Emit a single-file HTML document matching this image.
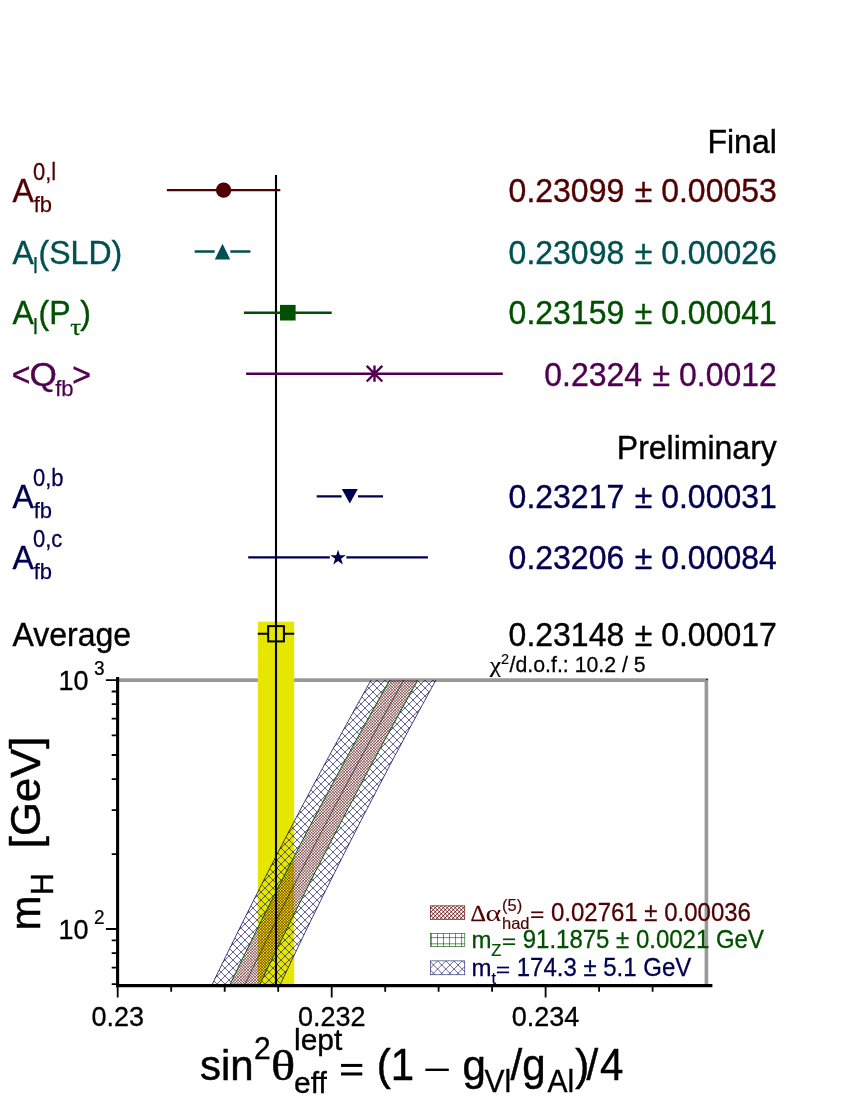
<!DOCTYPE html>
<html><head><meta charset="utf-8"><title>sin2theta</title>
<style>
html,body{margin:0;padding:0;background:#fff;}
svg{display:block;will-change:transform;}
text{font-family:"Liberation Sans", sans-serif;paint-order:stroke fill;}
.sy{font-family:"Liberation Serif", serif;}
</style></head><body>
<svg width="847" height="1096" viewBox="0 0 847 1096">
<defs>
<clipPath id="cp"><rect x="117.7" y="680.1" width="588.6999999999999" height="304.1181537795111"/></clipPath>
</defs>
<rect width="847" height="1096" fill="#fff"/>

<path d="M117.7 680.1H706.4V984.2181537795111" fill="none" stroke="#999999" stroke-width="3.6"/>
<rect x="257.8" y="621.6" width="36.4" height="362.6" fill="#e6e600"/>
<clipPath id="cb"><path d="M373.3 676.1L371.1 680.1L368.8 684.1L366.6 688.1L364.3 692.1L362.1 696.1L359.9 700.1L357.6 704.1L355.4 708.1L353.2 712.1L351.0 716.1L348.8 720.1L346.6 724.1L344.4 728.1L342.2 732.1L340.0 736.1L337.8 740.1L335.6 744.1L333.4 748.1L331.2 752.1L329.1 756.1L326.9 760.1L324.7 764.1L322.6 768.1L320.4 772.1L318.3 776.1L316.1 780.1L314.0 784.1L311.8 788.1L309.7 792.1L307.6 796.1L305.5 800.1L303.3 804.1L301.2 808.1L299.1 812.1L297.0 816.1L294.9 820.1L292.8 824.1L290.7 828.1L288.6 832.1L286.5 836.1L284.4 840.1L282.4 844.1L280.3 848.1L278.2 852.1L276.2 856.1L274.1 860.1L272.0 864.1L270.0 868.1L267.9 872.1L265.9 876.1L263.9 880.1L261.8 884.1L259.8 888.1L257.8 892.1L255.7 896.1L253.7 900.1L251.7 904.1L249.7 908.1L247.7 912.1L245.7 916.1L243.7 920.1L241.7 924.1L239.7 928.1L237.7 932.1L235.8 936.1L233.8 940.1L231.8 944.1L229.9 948.1L227.9 952.1L225.9 956.1L224.0 960.1L222.0 964.1L220.1 968.1L218.1 972.1L216.2 976.1L214.3 980.1L212.4 984.1L210.4 988.1L208.5 992.1L226.0 992.1L227.9 988.1L229.9 984.1L231.8 980.1L233.7 976.1L235.7 972.1L237.6 968.1L239.6 964.1L241.5 960.1L243.5 956.1L245.5 952.1L247.5 948.1L249.4 944.1L251.4 940.1L253.4 936.1L255.4 932.1L257.4 928.1L259.4 924.1L261.4 920.1L263.4 916.1L265.4 912.1L267.4 908.1L269.4 904.1L271.5 900.1L273.5 896.1L275.5 892.1L277.6 888.1L279.6 884.1L281.6 880.1L283.7 876.1L285.7 872.1L287.8 868.1L289.9 864.1L291.9 860.1L294.0 856.1L296.1 852.1L298.2 848.1L300.2 844.1L302.3 840.1L304.4 836.1L306.5 832.1L308.6 828.1L310.7 824.1L312.8 820.1L315.0 816.1L317.1 812.1L319.2 808.1L321.3 804.1L323.5 800.1L325.6 796.1L327.7 792.1L329.9 788.1L332.0 784.1L334.2 780.1L336.3 776.1L338.5 772.1L340.7 768.1L342.8 764.1L345.0 760.1L347.2 756.1L349.4 752.1L351.6 748.1L353.7 744.1L355.9 740.1L358.1 736.1L360.3 732.1L362.5 728.1L364.8 724.1L367.0 720.1L369.2 716.1L371.4 712.1L373.7 708.1L375.9 704.1L378.1 700.1L380.4 696.1L382.6 692.1L384.9 688.1L387.1 684.1L389.4 680.1L391.6 676.1Z"/><path d="M420.4 676.1L418.1 680.1L415.9 684.1L413.7 688.1L411.4 692.1L409.2 696.1L407.0 700.1L404.8 704.1L402.6 708.1L400.4 712.1L398.2 716.1L396.0 720.1L393.8 724.1L391.6 728.1L389.4 732.1L387.2 736.1L385.0 740.1L382.8 744.1L380.7 748.1L378.5 752.1L376.4 756.1L374.2 760.1L372.0 764.1L369.9 768.1L367.7 772.1L365.6 776.1L363.5 780.1L361.3 784.1L359.2 788.1L357.1 792.1L355.0 796.1L352.9 800.1L350.8 804.1L348.6 808.1L346.5 812.1L344.4 816.1L342.4 820.1L340.3 824.1L338.2 828.1L336.1 832.1L334.0 836.1L332.0 840.1L329.9 844.1L327.8 848.1L325.8 852.1L323.7 856.1L321.7 860.1L319.6 864.1L317.6 868.1L315.5 872.1L313.5 876.1L311.5 880.1L309.5 884.1L307.4 888.1L305.4 892.1L303.4 896.1L301.4 900.1L299.4 904.1L297.4 908.1L295.4 912.1L293.4 916.1L291.4 920.1L289.5 924.1L287.5 928.1L285.5 932.1L283.5 936.1L281.6 940.1L279.6 944.1L277.7 948.1L275.7 952.1L273.8 956.1L271.8 960.1L269.9 964.1L267.9 968.1L266.0 972.1L264.1 976.1L262.2 980.1L260.3 984.1L258.3 988.1L256.4 992.1L276.7 992.1L278.6 988.1L280.5 984.1L282.3 980.1L284.2 976.1L286.1 972.1L288.0 968.1L289.9 964.1L291.8 960.1L293.7 956.1L295.7 952.1L297.6 948.1L299.5 944.1L301.4 940.1L303.4 936.1L305.3 932.1L307.2 928.1L309.2 924.1L311.1 920.1L313.1 916.1L315.0 912.1L317.0 908.1L319.0 904.1L320.9 900.1L322.9 896.1L324.9 892.1L326.9 888.1L328.9 884.1L330.9 880.1L332.9 876.1L334.9 872.1L336.9 868.1L338.9 864.1L340.9 860.1L342.9 856.1L344.9 852.1L347.0 848.1L349.0 844.1L351.0 840.1L353.1 836.1L355.1 832.1L357.2 828.1L359.2 824.1L361.3 820.1L363.3 816.1L365.4 812.1L367.5 808.1L369.5 804.1L371.6 800.1L373.7 796.1L375.8 792.1L377.9 788.1L380.0 784.1L382.1 780.1L384.2 776.1L386.3 772.1L388.4 768.1L390.5 764.1L392.6 760.1L394.7 756.1L396.9 752.1L399.0 748.1L401.2 744.1L403.3 740.1L405.4 736.1L407.6 732.1L409.7 728.1L411.9 724.1L414.1 720.1L416.2 716.1L418.4 712.1L420.6 708.1L422.8 704.1L425.0 700.1L427.1 696.1L429.3 692.1L431.5 688.1L433.7 684.1L435.9 680.1L438.2 676.1Z"/></clipPath>
<clipPath id="cr"><path d="M392.2 676.1L390.0 680.1L387.7 684.1L385.5 688.1L383.2 692.1L381.0 696.1L378.7 700.1L376.5 704.1L374.3 708.1L372.0 712.1L369.8 716.1L367.6 720.1L365.4 724.1L363.1 728.1L360.9 732.1L358.7 736.1L356.5 740.1L354.3 744.1L352.2 748.1L350.0 752.1L347.8 756.1L345.6 760.1L343.4 764.1L341.3 768.1L339.1 772.1L336.9 776.1L334.8 780.1L332.6 784.1L330.5 788.1L328.3 792.1L326.2 796.1L324.1 800.1L321.9 804.1L319.8 808.1L317.7 812.1L315.6 816.1L313.4 820.1L311.3 824.1L309.2 828.1L307.1 832.1L305.0 836.1L302.9 840.1L300.8 844.1L298.8 848.1L296.7 852.1L294.6 856.1L292.5 860.1L290.5 864.1L288.4 868.1L286.3 872.1L284.3 876.1L282.2 880.1L280.2 884.1L278.2 888.1L276.1 892.1L274.1 896.1L272.1 900.1L270.0 904.1L268.0 908.1L266.0 912.1L264.0 916.1L262.0 920.1L260.0 924.1L258.0 928.1L256.0 932.1L254.0 936.1L252.0 940.1L250.0 944.1L248.1 948.1L246.1 952.1L244.1 956.1L242.1 960.1L240.2 964.1L238.2 968.1L236.3 972.1L234.3 976.1L232.4 980.1L230.5 984.1L228.5 988.1L226.6 992.1L255.8 992.1L257.7 988.1L259.7 984.1L261.6 980.1L263.5 976.1L265.4 972.1L267.3 968.1L269.3 964.1L271.2 960.1L273.2 956.1L275.1 952.1L277.1 948.1L279.0 944.1L281.0 940.1L282.9 936.1L284.9 932.1L286.9 928.1L288.9 924.1L290.8 920.1L292.8 916.1L294.8 912.1L296.8 908.1L298.8 904.1L300.8 900.1L302.8 896.1L304.8 892.1L306.8 888.1L308.9 884.1L310.9 880.1L312.9 876.1L314.9 872.1L317.0 868.1L319.0 864.1L321.1 860.1L323.1 856.1L325.2 852.1L327.2 848.1L329.3 844.1L331.4 840.1L333.4 836.1L335.5 832.1L337.6 828.1L339.7 824.1L341.8 820.1L343.8 816.1L345.9 812.1L348.0 808.1L350.2 804.1L352.3 800.1L354.4 796.1L356.5 792.1L358.6 788.1L360.7 784.1L362.9 780.1L365.0 776.1L367.1 772.1L369.3 768.1L371.4 764.1L373.6 760.1L375.8 756.1L377.9 752.1L380.1 748.1L382.2 744.1L384.4 740.1L386.6 736.1L388.8 732.1L391.0 728.1L393.2 724.1L395.4 720.1L397.6 716.1L399.8 712.1L402.0 708.1L404.2 704.1L406.4 700.1L408.6 696.1L410.8 692.1L413.1 688.1L415.3 684.1L417.5 680.1L419.8 676.1Z"/></clipPath>
<g clip-path="url(#cp)">
<g clip-path="url(#cb)"><path d="M-111.00 680.1l306.1 306.1M-103.00 680.1l306.1 306.1M-95.00 680.1l306.1 306.1M-87.00 680.1l306.1 306.1M-79.00 680.1l306.1 306.1M-71.00 680.1l306.1 306.1M-63.00 680.1l306.1 306.1M-55.00 680.1l306.1 306.1M-47.00 680.1l306.1 306.1M-39.00 680.1l306.1 306.1M-31.00 680.1l306.1 306.1M-23.00 680.1l306.1 306.1M-15.00 680.1l306.1 306.1M-7.00 680.1l306.1 306.1M1.00 680.1l306.1 306.1M9.00 680.1l306.1 306.1M17.00 680.1l306.1 306.1M25.00 680.1l306.1 306.1M33.00 680.1l306.1 306.1M41.00 680.1l306.1 306.1M49.00 680.1l306.1 306.1M57.00 680.1l306.1 306.1M65.00 680.1l306.1 306.1M73.00 680.1l306.1 306.1M81.00 680.1l306.1 306.1M89.00 680.1l306.1 306.1M97.00 680.1l306.1 306.1M105.00 680.1l306.1 306.1M113.00 680.1l306.1 306.1M121.00 680.1l306.1 306.1M129.00 680.1l306.1 306.1M137.00 680.1l306.1 306.1M145.00 680.1l306.1 306.1M153.00 680.1l306.1 306.1M161.00 680.1l306.1 306.1M169.00 680.1l306.1 306.1M177.00 680.1l306.1 306.1M185.00 680.1l306.1 306.1M193.00 680.1l306.1 306.1M201.00 680.1l306.1 306.1M209.00 680.1l306.1 306.1M217.00 680.1l306.1 306.1M225.00 680.1l306.1 306.1M233.00 680.1l306.1 306.1M241.00 680.1l306.1 306.1M249.00 680.1l306.1 306.1M257.00 680.1l306.1 306.1M265.00 680.1l306.1 306.1M273.00 680.1l306.1 306.1M281.00 680.1l306.1 306.1M289.00 680.1l306.1 306.1M297.00 680.1l306.1 306.1M305.00 680.1l306.1 306.1M313.00 680.1l306.1 306.1M321.00 680.1l306.1 306.1M329.00 680.1l306.1 306.1M337.00 680.1l306.1 306.1M345.00 680.1l306.1 306.1M353.00 680.1l306.1 306.1M361.00 680.1l306.1 306.1M369.00 680.1l306.1 306.1M377.00 680.1l306.1 306.1M385.00 680.1l306.1 306.1M393.00 680.1l306.1 306.1M401.00 680.1l306.1 306.1M409.00 680.1l306.1 306.1M417.00 680.1l306.1 306.1M425.00 680.1l306.1 306.1M433.00 680.1l306.1 306.1M441.00 680.1l306.1 306.1M201.00 680.1l-306.1 306.1M209.00 680.1l-306.1 306.1M217.00 680.1l-306.1 306.1M225.00 680.1l-306.1 306.1M233.00 680.1l-306.1 306.1M241.00 680.1l-306.1 306.1M249.00 680.1l-306.1 306.1M257.00 680.1l-306.1 306.1M265.00 680.1l-306.1 306.1M273.00 680.1l-306.1 306.1M281.00 680.1l-306.1 306.1M289.00 680.1l-306.1 306.1M297.00 680.1l-306.1 306.1M305.00 680.1l-306.1 306.1M313.00 680.1l-306.1 306.1M321.00 680.1l-306.1 306.1M329.00 680.1l-306.1 306.1M337.00 680.1l-306.1 306.1M345.00 680.1l-306.1 306.1M353.00 680.1l-306.1 306.1M361.00 680.1l-306.1 306.1M369.00 680.1l-306.1 306.1M377.00 680.1l-306.1 306.1M385.00 680.1l-306.1 306.1M393.00 680.1l-306.1 306.1M401.00 680.1l-306.1 306.1M409.00 680.1l-306.1 306.1M417.00 680.1l-306.1 306.1M425.00 680.1l-306.1 306.1M433.00 680.1l-306.1 306.1M441.00 680.1l-306.1 306.1M449.00 680.1l-306.1 306.1M457.00 680.1l-306.1 306.1M465.00 680.1l-306.1 306.1M473.00 680.1l-306.1 306.1M481.00 680.1l-306.1 306.1M489.00 680.1l-306.1 306.1M497.00 680.1l-306.1 306.1M505.00 680.1l-306.1 306.1M513.00 680.1l-306.1 306.1M521.00 680.1l-306.1 306.1M529.00 680.1l-306.1 306.1M537.00 680.1l-306.1 306.1M545.00 680.1l-306.1 306.1M553.00 680.1l-306.1 306.1M561.00 680.1l-306.1 306.1M569.00 680.1l-306.1 306.1M577.00 680.1l-306.1 306.1M585.00 680.1l-306.1 306.1M593.00 680.1l-306.1 306.1M601.00 680.1l-306.1 306.1M609.00 680.1l-306.1 306.1M617.00 680.1l-306.1 306.1M625.00 680.1l-306.1 306.1M633.00 680.1l-306.1 306.1M641.00 680.1l-306.1 306.1M649.00 680.1l-306.1 306.1M657.00 680.1l-306.1 306.1M665.00 680.1l-306.1 306.1M673.00 680.1l-306.1 306.1M681.00 680.1l-306.1 306.1M689.00 680.1l-306.1 306.1M697.00 680.1l-306.1 306.1M705.00 680.1l-306.1 306.1M713.00 680.1l-306.1 306.1M721.00 680.1l-306.1 306.1M729.00 680.1l-306.1 306.1M737.00 680.1l-306.1 306.1M745.00 680.1l-306.1 306.1M753.00 680.1l-306.1 306.1" stroke="#000050" stroke-width="0.65" fill="none"/></g>
<g clip-path="url(#cr)"><path d="M-81.52 680.1l306.1 306.1M-78.70 680.1l306.1 306.1M-75.87 680.1l306.1 306.1M-73.04 680.1l306.1 306.1M-70.21 680.1l306.1 306.1M-67.38 680.1l306.1 306.1M-64.55 680.1l306.1 306.1M-61.72 680.1l306.1 306.1M-58.90 680.1l306.1 306.1M-56.07 680.1l306.1 306.1M-53.24 680.1l306.1 306.1M-50.41 680.1l306.1 306.1M-47.58 680.1l306.1 306.1M-44.75 680.1l306.1 306.1M-41.93 680.1l306.1 306.1M-39.10 680.1l306.1 306.1M-36.27 680.1l306.1 306.1M-33.44 680.1l306.1 306.1M-30.61 680.1l306.1 306.1M-27.78 680.1l306.1 306.1M-24.96 680.1l306.1 306.1M-22.13 680.1l306.1 306.1M-19.30 680.1l306.1 306.1M-16.47 680.1l306.1 306.1M-13.64 680.1l306.1 306.1M-10.81 680.1l306.1 306.1M-7.99 680.1l306.1 306.1M-5.16 680.1l306.1 306.1M-2.33 680.1l306.1 306.1M0.50 680.1l306.1 306.1M3.33 680.1l306.1 306.1M6.16 680.1l306.1 306.1M8.99 680.1l306.1 306.1M11.81 680.1l306.1 306.1M14.64 680.1l306.1 306.1M17.47 680.1l306.1 306.1M20.30 680.1l306.1 306.1M23.13 680.1l306.1 306.1M25.96 680.1l306.1 306.1M28.78 680.1l306.1 306.1M31.61 680.1l306.1 306.1M34.44 680.1l306.1 306.1M37.27 680.1l306.1 306.1M40.10 680.1l306.1 306.1M42.93 680.1l306.1 306.1M45.75 680.1l306.1 306.1M48.58 680.1l306.1 306.1M51.41 680.1l306.1 306.1M54.24 680.1l306.1 306.1M57.07 680.1l306.1 306.1M59.90 680.1l306.1 306.1M62.72 680.1l306.1 306.1M65.55 680.1l306.1 306.1M68.38 680.1l306.1 306.1M71.21 680.1l306.1 306.1M74.04 680.1l306.1 306.1M76.87 680.1l306.1 306.1M79.70 680.1l306.1 306.1M82.52 680.1l306.1 306.1M85.35 680.1l306.1 306.1M88.18 680.1l306.1 306.1M91.01 680.1l306.1 306.1M93.84 680.1l306.1 306.1M96.67 680.1l306.1 306.1M99.49 680.1l306.1 306.1M102.32 680.1l306.1 306.1M105.15 680.1l306.1 306.1M107.98 680.1l306.1 306.1M110.81 680.1l306.1 306.1M113.64 680.1l306.1 306.1M116.46 680.1l306.1 306.1M119.29 680.1l306.1 306.1M122.12 680.1l306.1 306.1M124.95 680.1l306.1 306.1M127.78 680.1l306.1 306.1M130.61 680.1l306.1 306.1M133.43 680.1l306.1 306.1M136.26 680.1l306.1 306.1M139.09 680.1l306.1 306.1M141.92 680.1l306.1 306.1M144.75 680.1l306.1 306.1M147.58 680.1l306.1 306.1M150.41 680.1l306.1 306.1M153.23 680.1l306.1 306.1M156.06 680.1l306.1 306.1M158.89 680.1l306.1 306.1M161.72 680.1l306.1 306.1M164.55 680.1l306.1 306.1M167.38 680.1l306.1 306.1M170.20 680.1l306.1 306.1M173.03 680.1l306.1 306.1M175.86 680.1l306.1 306.1M178.69 680.1l306.1 306.1M181.52 680.1l306.1 306.1M184.35 680.1l306.1 306.1M187.17 680.1l306.1 306.1M190.00 680.1l306.1 306.1M192.83 680.1l306.1 306.1M195.66 680.1l306.1 306.1M198.49 680.1l306.1 306.1M201.32 680.1l306.1 306.1M204.14 680.1l306.1 306.1M206.97 680.1l306.1 306.1M209.80 680.1l306.1 306.1M212.63 680.1l306.1 306.1M215.46 680.1l306.1 306.1M218.29 680.1l306.1 306.1M221.12 680.1l306.1 306.1M223.94 680.1l306.1 306.1M226.77 680.1l306.1 306.1M229.60 680.1l306.1 306.1M232.43 680.1l306.1 306.1M235.26 680.1l306.1 306.1M238.09 680.1l306.1 306.1M240.91 680.1l306.1 306.1M243.74 680.1l306.1 306.1M246.57 680.1l306.1 306.1M249.40 680.1l306.1 306.1M252.23 680.1l306.1 306.1M255.06 680.1l306.1 306.1M257.88 680.1l306.1 306.1M260.71 680.1l306.1 306.1M263.54 680.1l306.1 306.1M266.37 680.1l306.1 306.1M269.20 680.1l306.1 306.1M272.03 680.1l306.1 306.1M274.85 680.1l306.1 306.1M277.68 680.1l306.1 306.1M280.51 680.1l306.1 306.1M283.34 680.1l306.1 306.1M286.17 680.1l306.1 306.1M289.00 680.1l306.1 306.1M291.83 680.1l306.1 306.1M294.65 680.1l306.1 306.1M297.48 680.1l306.1 306.1M300.31 680.1l306.1 306.1M303.14 680.1l306.1 306.1M305.97 680.1l306.1 306.1M308.80 680.1l306.1 306.1M311.62 680.1l306.1 306.1M314.45 680.1l306.1 306.1M317.28 680.1l306.1 306.1M320.11 680.1l306.1 306.1M322.94 680.1l306.1 306.1M325.77 680.1l306.1 306.1M328.59 680.1l306.1 306.1M331.42 680.1l306.1 306.1M334.25 680.1l306.1 306.1M337.08 680.1l306.1 306.1M339.91 680.1l306.1 306.1M342.74 680.1l306.1 306.1M345.56 680.1l306.1 306.1M348.39 680.1l306.1 306.1M351.22 680.1l306.1 306.1M354.05 680.1l306.1 306.1M356.88 680.1l306.1 306.1M359.71 680.1l306.1 306.1M362.54 680.1l306.1 306.1M365.36 680.1l306.1 306.1M368.19 680.1l306.1 306.1M371.02 680.1l306.1 306.1M373.85 680.1l306.1 306.1M376.68 680.1l306.1 306.1M379.51 680.1l306.1 306.1M382.33 680.1l306.1 306.1M385.16 680.1l306.1 306.1M387.99 680.1l306.1 306.1M390.82 680.1l306.1 306.1M393.65 680.1l306.1 306.1M396.48 680.1l306.1 306.1M399.30 680.1l306.1 306.1M402.13 680.1l306.1 306.1M404.96 680.1l306.1 306.1M407.79 680.1l306.1 306.1M410.62 680.1l306.1 306.1M413.45 680.1l306.1 306.1M416.27 680.1l306.1 306.1M419.10 680.1l306.1 306.1M421.93 680.1l306.1 306.1M223.94 680.1l-306.1 306.1M226.77 680.1l-306.1 306.1M229.60 680.1l-306.1 306.1M232.43 680.1l-306.1 306.1M235.26 680.1l-306.1 306.1M238.09 680.1l-306.1 306.1M240.91 680.1l-306.1 306.1M243.74 680.1l-306.1 306.1M246.57 680.1l-306.1 306.1M249.40 680.1l-306.1 306.1M252.23 680.1l-306.1 306.1M255.06 680.1l-306.1 306.1M257.88 680.1l-306.1 306.1M260.71 680.1l-306.1 306.1M263.54 680.1l-306.1 306.1M266.37 680.1l-306.1 306.1M269.20 680.1l-306.1 306.1M272.03 680.1l-306.1 306.1M274.85 680.1l-306.1 306.1M277.68 680.1l-306.1 306.1M280.51 680.1l-306.1 306.1M283.34 680.1l-306.1 306.1M286.17 680.1l-306.1 306.1M289.00 680.1l-306.1 306.1M291.83 680.1l-306.1 306.1M294.65 680.1l-306.1 306.1M297.48 680.1l-306.1 306.1M300.31 680.1l-306.1 306.1M303.14 680.1l-306.1 306.1M305.97 680.1l-306.1 306.1M308.80 680.1l-306.1 306.1M311.62 680.1l-306.1 306.1M314.45 680.1l-306.1 306.1M317.28 680.1l-306.1 306.1M320.11 680.1l-306.1 306.1M322.94 680.1l-306.1 306.1M325.77 680.1l-306.1 306.1M328.59 680.1l-306.1 306.1M331.42 680.1l-306.1 306.1M334.25 680.1l-306.1 306.1M337.08 680.1l-306.1 306.1M339.91 680.1l-306.1 306.1M342.74 680.1l-306.1 306.1M345.56 680.1l-306.1 306.1M348.39 680.1l-306.1 306.1M351.22 680.1l-306.1 306.1M354.05 680.1l-306.1 306.1M356.88 680.1l-306.1 306.1M359.71 680.1l-306.1 306.1M362.54 680.1l-306.1 306.1M365.36 680.1l-306.1 306.1M368.19 680.1l-306.1 306.1M371.02 680.1l-306.1 306.1M373.85 680.1l-306.1 306.1M376.68 680.1l-306.1 306.1M379.51 680.1l-306.1 306.1M382.33 680.1l-306.1 306.1M385.16 680.1l-306.1 306.1M387.99 680.1l-306.1 306.1M390.82 680.1l-306.1 306.1M393.65 680.1l-306.1 306.1M396.48 680.1l-306.1 306.1M399.30 680.1l-306.1 306.1M402.13 680.1l-306.1 306.1M404.96 680.1l-306.1 306.1M407.79 680.1l-306.1 306.1M410.62 680.1l-306.1 306.1M413.45 680.1l-306.1 306.1M416.27 680.1l-306.1 306.1M419.10 680.1l-306.1 306.1M421.93 680.1l-306.1 306.1M424.76 680.1l-306.1 306.1M427.59 680.1l-306.1 306.1M430.42 680.1l-306.1 306.1M433.25 680.1l-306.1 306.1M436.07 680.1l-306.1 306.1M438.90 680.1l-306.1 306.1M441.73 680.1l-306.1 306.1M444.56 680.1l-306.1 306.1M447.39 680.1l-306.1 306.1M450.22 680.1l-306.1 306.1M453.04 680.1l-306.1 306.1M455.87 680.1l-306.1 306.1M458.70 680.1l-306.1 306.1M461.53 680.1l-306.1 306.1M464.36 680.1l-306.1 306.1M467.19 680.1l-306.1 306.1M470.01 680.1l-306.1 306.1M472.84 680.1l-306.1 306.1M475.67 680.1l-306.1 306.1M478.50 680.1l-306.1 306.1M481.33 680.1l-306.1 306.1M484.16 680.1l-306.1 306.1M486.98 680.1l-306.1 306.1M489.81 680.1l-306.1 306.1M492.64 680.1l-306.1 306.1M495.47 680.1l-306.1 306.1M498.30 680.1l-306.1 306.1M501.13 680.1l-306.1 306.1M503.96 680.1l-306.1 306.1M506.78 680.1l-306.1 306.1M509.61 680.1l-306.1 306.1M512.44 680.1l-306.1 306.1M515.27 680.1l-306.1 306.1M518.10 680.1l-306.1 306.1M520.93 680.1l-306.1 306.1M523.75 680.1l-306.1 306.1M526.58 680.1l-306.1 306.1M529.41 680.1l-306.1 306.1M532.24 680.1l-306.1 306.1M535.07 680.1l-306.1 306.1M537.90 680.1l-306.1 306.1M540.72 680.1l-306.1 306.1M543.55 680.1l-306.1 306.1M546.38 680.1l-306.1 306.1M549.21 680.1l-306.1 306.1M552.04 680.1l-306.1 306.1M554.87 680.1l-306.1 306.1M557.69 680.1l-306.1 306.1M560.52 680.1l-306.1 306.1M563.35 680.1l-306.1 306.1M566.18 680.1l-306.1 306.1M569.01 680.1l-306.1 306.1M571.84 680.1l-306.1 306.1M574.67 680.1l-306.1 306.1M577.49 680.1l-306.1 306.1M580.32 680.1l-306.1 306.1M583.15 680.1l-306.1 306.1M585.98 680.1l-306.1 306.1M588.81 680.1l-306.1 306.1M591.64 680.1l-306.1 306.1M594.46 680.1l-306.1 306.1M597.29 680.1l-306.1 306.1M600.12 680.1l-306.1 306.1M602.95 680.1l-306.1 306.1M605.78 680.1l-306.1 306.1M608.61 680.1l-306.1 306.1M611.43 680.1l-306.1 306.1M614.26 680.1l-306.1 306.1M617.09 680.1l-306.1 306.1M619.92 680.1l-306.1 306.1M622.75 680.1l-306.1 306.1M625.58 680.1l-306.1 306.1M628.40 680.1l-306.1 306.1M631.23 680.1l-306.1 306.1M634.06 680.1l-306.1 306.1M636.89 680.1l-306.1 306.1M639.72 680.1l-306.1 306.1M642.55 680.1l-306.1 306.1M645.38 680.1l-306.1 306.1M648.20 680.1l-306.1 306.1M651.03 680.1l-306.1 306.1M653.86 680.1l-306.1 306.1M656.69 680.1l-306.1 306.1M659.52 680.1l-306.1 306.1M662.35 680.1l-306.1 306.1M665.17 680.1l-306.1 306.1M668.00 680.1l-306.1 306.1M670.83 680.1l-306.1 306.1M673.66 680.1l-306.1 306.1M676.49 680.1l-306.1 306.1M679.32 680.1l-306.1 306.1M682.14 680.1l-306.1 306.1M684.97 680.1l-306.1 306.1M687.80 680.1l-306.1 306.1M690.63 680.1l-306.1 306.1M693.46 680.1l-306.1 306.1M696.29 680.1l-306.1 306.1M699.11 680.1l-306.1 306.1M701.94 680.1l-306.1 306.1M704.77 680.1l-306.1 306.1M707.60 680.1l-306.1 306.1M710.43 680.1l-306.1 306.1M713.26 680.1l-306.1 306.1M716.09 680.1l-306.1 306.1M718.91 680.1l-306.1 306.1M721.74 680.1l-306.1 306.1M724.57 680.1l-306.1 306.1M727.40 680.1l-306.1 306.1" stroke="#500000" stroke-width="0.58" fill="none"/></g>
<path d="M373.3 676.1L371.1 680.1L368.8 684.1L366.6 688.1L364.3 692.1L362.1 696.1L359.9 700.1L357.6 704.1L355.4 708.1L353.2 712.1L351.0 716.1L348.8 720.1L346.6 724.1L344.4 728.1L342.2 732.1L340.0 736.1L337.8 740.1L335.6 744.1L333.4 748.1L331.2 752.1L329.1 756.1L326.9 760.1L324.7 764.1L322.6 768.1L320.4 772.1L318.3 776.1L316.1 780.1L314.0 784.1L311.8 788.1L309.7 792.1L307.6 796.1L305.5 800.1L303.3 804.1L301.2 808.1L299.1 812.1L297.0 816.1L294.9 820.1L292.8 824.1L290.7 828.1L288.6 832.1L286.5 836.1L284.4 840.1L282.4 844.1L280.3 848.1L278.2 852.1L276.2 856.1L274.1 860.1L272.0 864.1L270.0 868.1L267.9 872.1L265.9 876.1L263.9 880.1L261.8 884.1L259.8 888.1L257.8 892.1L255.7 896.1L253.7 900.1L251.7 904.1L249.7 908.1L247.7 912.1L245.7 916.1L243.7 920.1L241.7 924.1L239.7 928.1L237.7 932.1L235.8 936.1L233.8 940.1L231.8 944.1L229.9 948.1L227.9 952.1L225.9 956.1L224.0 960.1L222.0 964.1L220.1 968.1L218.1 972.1L216.2 976.1L214.3 980.1L212.4 984.1L210.4 988.1L208.5 992.1M438.2 676.1L435.9 680.1L433.7 684.1L431.5 688.1L429.3 692.1L427.1 696.1L425.0 700.1L422.8 704.1L420.6 708.1L418.4 712.1L416.2 716.1L414.1 720.1L411.9 724.1L409.7 728.1L407.6 732.1L405.4 736.1L403.3 740.1L401.2 744.1L399.0 748.1L396.9 752.1L394.7 756.1L392.6 760.1L390.5 764.1L388.4 768.1L386.3 772.1L384.2 776.1L382.1 780.1L380.0 784.1L377.9 788.1L375.8 792.1L373.7 796.1L371.6 800.1L369.5 804.1L367.5 808.1L365.4 812.1L363.3 816.1L361.3 820.1L359.2 824.1L357.2 828.1L355.1 832.1L353.1 836.1L351.0 840.1L349.0 844.1L347.0 848.1L344.9 852.1L342.9 856.1L340.9 860.1L338.9 864.1L336.9 868.1L334.9 872.1L332.9 876.1L330.9 880.1L328.9 884.1L326.9 888.1L324.9 892.1L322.9 896.1L320.9 900.1L319.0 904.1L317.0 908.1L315.0 912.1L313.1 916.1L311.1 920.1L309.2 924.1L307.2 928.1L305.3 932.1L303.4 936.1L301.4 940.1L299.5 944.1L297.6 948.1L295.7 952.1L293.7 956.1L291.8 960.1L289.9 964.1L288.0 968.1L286.1 972.1L284.2 976.1L282.3 980.1L280.5 984.1L278.6 988.1L276.7 992.1" fill="none" stroke="#000050" stroke-width="0.75"/>
<path d="M391.9 676.1L389.7 680.1L387.4 684.1L385.2 688.1L382.9 692.1L380.7 696.1L378.4 700.1L376.2 704.1L374.0 708.1L371.7 712.1L369.5 716.1L367.3 720.1L365.1 724.1L362.8 728.1L360.6 732.1L358.4 736.1L356.2 740.1L354.0 744.1L351.9 748.1L349.7 752.1L347.5 756.1L345.3 760.1L343.1 764.1L341.0 768.1L338.8 772.1L336.6 776.1L334.5 780.1L332.3 784.1L330.2 788.1L328.0 792.1L325.9 796.1L323.8 800.1L321.6 804.1L319.5 808.1L317.4 812.1L315.3 816.1L313.1 820.1L311.0 824.1L308.9 828.1L306.8 832.1L304.7 836.1L302.6 840.1L300.5 844.1L298.5 848.1L296.4 852.1L294.3 856.1L292.2 860.1L290.2 864.1L288.1 868.1L286.0 872.1L284.0 876.1L281.9 880.1L279.9 884.1L277.9 888.1L275.8 892.1L273.8 896.1L271.8 900.1L269.7 904.1L267.7 908.1L265.7 912.1L263.7 916.1L261.7 920.1L259.7 924.1L257.7 928.1L255.7 932.1L253.7 936.1L251.7 940.1L249.7 944.1L247.8 948.1L245.8 952.1L243.8 956.1L241.8 960.1L239.9 964.1L237.9 968.1L236.0 972.1L234.0 976.1L232.1 980.1L230.2 984.1L228.2 988.1L226.3 992.1M420.1 676.1L417.8 680.1L415.6 684.1L413.4 688.1L411.1 692.1L408.9 696.1L406.7 700.1L404.5 704.1L402.3 708.1L400.1 712.1L397.9 716.1L395.7 720.1L393.5 724.1L391.3 728.1L389.1 732.1L386.9 736.1L384.7 740.1L382.5 744.1L380.4 748.1L378.2 752.1L376.1 756.1L373.9 760.1L371.7 764.1L369.6 768.1L367.4 772.1L365.3 776.1L363.2 780.1L361.0 784.1L358.9 788.1L356.8 792.1L354.7 796.1L352.6 800.1L350.5 804.1L348.3 808.1L346.2 812.1L344.1 816.1L342.1 820.1L340.0 824.1L337.9 828.1L335.8 832.1L333.7 836.1L331.7 840.1L329.6 844.1L327.5 848.1L325.5 852.1L323.4 856.1L321.4 860.1L319.3 864.1L317.3 868.1L315.2 872.1L313.2 876.1L311.2 880.1L309.2 884.1L307.1 888.1L305.1 892.1L303.1 896.1L301.1 900.1L299.1 904.1L297.1 908.1L295.1 912.1L293.1 916.1L291.1 920.1L289.2 924.1L287.2 928.1L285.2 932.1L283.2 936.1L281.3 940.1L279.3 944.1L277.4 948.1L275.4 952.1L273.5 956.1L271.5 960.1L269.6 964.1L267.6 968.1L265.7 972.1L263.8 976.1L261.9 980.1L260.0 984.1L258.0 988.1L256.1 992.1" fill="none" stroke="#005000" stroke-width="1.0"/>
<path d="M406.0 676.1L403.8 680.1L401.5 684.1L399.3 688.1L397.0 692.1L394.8 696.1L392.6 700.1L390.3 704.1L388.1 708.1L385.9 712.1L383.7 716.1L381.5 720.1L379.3 724.1L377.1 728.1L374.9 732.1L372.7 736.1L370.5 740.1L368.3 744.1L366.1 748.1L363.9 752.1L361.8 756.1L359.6 760.1L357.4 764.1L355.3 768.1L353.1 772.1L351.0 776.1L348.8 780.1L346.7 784.1L344.5 788.1L342.4 792.1L340.3 796.1L338.2 800.1L336.0 804.1L333.9 808.1L331.8 812.1L329.7 816.1L327.6 820.1L325.5 824.1L323.4 828.1L321.3 832.1L319.2 836.1L317.1 840.1L315.1 844.1L313.0 848.1L310.9 852.1L308.9 856.1L306.8 860.1L304.7 864.1L302.7 868.1L300.6 872.1L298.6 876.1L296.6 880.1L294.5 884.1L292.5 888.1L290.5 892.1L288.4 896.1L286.4 900.1L284.4 904.1L282.4 908.1L280.4 912.1L278.4 916.1L276.4 920.1L274.4 924.1L272.4 928.1L270.4 932.1L268.5 936.1L266.5 940.1L264.5 944.1L262.6 948.1L260.6 952.1L258.6 956.1L256.7 960.1L254.7 964.1L252.8 968.1L250.8 972.1L248.9 976.1L247.0 980.1L245.1 984.1L243.1 988.1L241.2 992.1" fill="none" stroke="#1a1a1a" stroke-width="0.65"/>
</g>
<rect x="706.2" y="679.0" width="1.6" height="1.1" fill="#111"/>
<path d="M276.0 175V984.2181537795111" stroke="#000" stroke-width="2.1"/>
<path d="M117.6 677V987.2181537795111" stroke="#000" stroke-width="3.1"/>
<path d="M116 985.6H712.4" stroke="#000" stroke-width="3.3"/>
<path d="M105.9 680.1H117.7M105.9 929.0H117.7M111.7 691.5H117.7M111.7 704.2H117.7M111.7 718.7H117.7M111.7 735.3H117.7M111.7 755.0H117.7M111.7 779.1H117.7M111.7 810.2H117.7M111.7 854.1H117.7M111.7 940.4H117.7M111.7 953.1H117.7M111.7 967.6H117.7M111.7 984.2H117.7" stroke="#000" stroke-width="1.8"/>
<path d="M117.7 985.2181537795111V997.6M171.2 985.2181537795111V991.7M224.7 985.2181537795111V991.7M278.2 985.2181537795111V991.7M331.7 985.2181537795111V997.6M385.2 985.2181537795111V991.7M438.6 985.2181537795111V991.7M492.1 985.2181537795111V991.7M545.6 985.2181537795111V997.6M599.1 985.2181537795111V991.7M652.6 985.2181537795111V991.7" stroke="#000" stroke-width="1.8"/>
<path d="M166.9 190.1H280.3" stroke="#500000" stroke-width="2.4"/>
<circle cx="223.6" cy="190.1" r="7.7" fill="#500000"/>
<path d="M194.7 251.5H214.7M230.3 251.5H250.4" stroke="#005050" stroke-width="2.4"/>
<path d="M222.5 243.8L230.2 259.4H214.8Z" fill="#005050"/>
<path d="M243.9 312.7H331.7" stroke="#005000" stroke-width="2.4"/>
<rect x="280.0" y="304.9" width="15.6" height="15.6" fill="#005000"/>
<path d="M246.1 373.7H502.8" stroke="#500050" stroke-width="2.4"/>
<path d="M374.5 365.6V381.8M366.7 365.9L382.3 381.5M382.3 365.9L366.7 381.5" stroke="#500050" stroke-width="2.4" fill="none"/>
<path d="M316.7 496.4H341.6M358.0 496.4H383.0" stroke="#000050" stroke-width="2.4"/>
<path d="M341.8 488.9H357.8L349.8 503.5Z" fill="#000050"/>
<path d="M248.2 557.4H329.8M346.4 557.4H427.9" stroke="#000050" stroke-width="2.4"/>
<path d="M338.08 549.70L339.92 555.37L345.88 555.37L341.06 558.87L342.90 564.53L338.08 561.03L333.26 564.53L335.10 558.87L330.28 555.37L336.24 555.37Z" fill="#000050"/>
<path d="M257.8 633.7H268.0M284.0 633.7H294.2" stroke="#000" stroke-width="2"/>
<rect x="268.2" y="626.1" width="15.7" height="15.3" fill="none" stroke="#000" stroke-width="2"/>
<text transform="translate(12.5 202.1) scale(1.0 1.05)" font-size="32" fill="#500000" stroke="#500000" stroke-width="0.37">A</text>
<text transform="translate(33 179.8) scale(1.0 1.05)" font-size="22" fill="#500000" stroke="#500000" stroke-width="0.25">0,l</text>
<text x="33.7" y="212.3" font-size="22" fill="#500000" stroke="#500000" stroke-width="0.25">fb</text>
<text transform="translate(12.5 263.7) scale(1.0 1.05)" font-size="32" fill="#005050" stroke="#005050" stroke-width="0.37">A</text>
<text x="33" y="273.4" font-size="22" fill="#005050" stroke="#005050" stroke-width="0.25">l</text>
<text transform="translate(38.6 263.7) scale(1.0 1.05)" font-size="32" fill="#005050" stroke="#005050" stroke-width="0.37">(SLD)</text>
<text transform="translate(12.5 324.4) scale(1.0 1.05)" font-size="32" fill="#005000" stroke="#005000" stroke-width="0.37">A</text>
<text x="33" y="334.2" font-size="22" fill="#005000" stroke="#005000" stroke-width="0.25">l</text>
<text transform="translate(38.6 324.4) scale(1.0 1.05)" font-size="32" fill="#005000" stroke="#005000" stroke-width="0.37">(P</text>
<text transform="translate(70.3 335.4) scale(1.15 1.0)" font-size="23.5" fill="#005000" stroke="#005000" stroke-width="0.27" class="sy">τ</text>
<text transform="translate(80.2 324.4) scale(1.0 1.05)" font-size="32" fill="#005000" stroke="#005000" stroke-width="0.37">)</text>
<text transform="translate(11.8 385.8) scale(1.0 1.05)" font-size="32" fill="#500050" stroke="#500050" stroke-width="0.37">&lt;</text>
<text transform="translate(29.6 385.8) scale(1.1 1.05)" font-size="32" fill="#500050" stroke="#500050" stroke-width="0.37">Q</text>
<text x="55.2" y="395.7" font-size="22" fill="#500050" stroke="#500050" stroke-width="0.25">fb</text>
<text transform="translate(72.3 385.8) scale(1.0 1.05)" font-size="32" fill="#500050" stroke="#500050" stroke-width="0.37">&gt;</text>
<text transform="translate(12.5 508.2) scale(1.0 1.05)" font-size="32" fill="#000050" stroke="#000050" stroke-width="0.37">A</text>
<text transform="translate(33 485.9) scale(1.0 1.05)" font-size="22" fill="#000050" stroke="#000050" stroke-width="0.25">0,b</text>
<text x="33.7" y="518.4" font-size="22" fill="#000050" stroke="#000050" stroke-width="0.25">fb</text>
<text transform="translate(12.5 569) scale(1.0 1.05)" font-size="32" fill="#000050" stroke="#000050" stroke-width="0.37">A</text>
<text transform="translate(33 546.7) scale(1.0 1.05)" font-size="22" fill="#000050" stroke="#000050" stroke-width="0.25">0,c</text>
<text x="33.7" y="579.2" font-size="22" fill="#000050" stroke="#000050" stroke-width="0.25">fb</text>
<text transform="translate(12.5 645.5) scale(1.0 1.03)" font-size="32" fill="#000" stroke="#000" stroke-width="0.37">Average</text>
<text transform="translate(776.8 152.5) scale(1.0 1.02)" font-size="32" fill="#000" stroke="#000" stroke-width="0.37" text-anchor="end">Final</text>
<text transform="translate(776.8 202.2) scale(1.0 1.05)" font-size="32" fill="#500000" stroke="#500000" stroke-width="0.37" text-anchor="end">0.23099<tspan dx="1.6"> ± </tspan>0.00053</text>
<text transform="translate(776.8 263.7) scale(1.0 1.05)" font-size="32" fill="#005050" stroke="#005050" stroke-width="0.37" text-anchor="end">0.23098<tspan dx="1.6"> ± </tspan>0.00026</text>
<text transform="translate(776.8 324.4) scale(1.0 1.05)" font-size="32" fill="#005000" stroke="#005000" stroke-width="0.37" text-anchor="end">0.23159<tspan dx="1.6"> ± </tspan>0.00041</text>
<text transform="translate(776.8 385.8) scale(1.0 1.05)" font-size="32" fill="#500050" stroke="#500050" stroke-width="0.37" text-anchor="end">0.2324<tspan dx="1.6"> ± </tspan>0.0012</text>
<text transform="translate(776.8 458.5) scale(1.0 1.02)" font-size="32" fill="#000" stroke="#000" stroke-width="0.37" text-anchor="end">Preliminary</text>
<text transform="translate(776.8 508.2) scale(1.0 1.05)" font-size="32" fill="#000050" stroke="#000050" stroke-width="0.37" text-anchor="end">0.23217<tspan dx="1.6"> ± </tspan>0.00031</text>
<text transform="translate(776.8 569) scale(1.0 1.05)" font-size="32" fill="#000050" stroke="#000050" stroke-width="0.37" text-anchor="end">0.23206<tspan dx="1.6"> ± </tspan>0.00084</text>
<text transform="translate(776.8 645.5) scale(1.0 1.05)" font-size="32" fill="#000" stroke="#000" stroke-width="0.37" text-anchor="end">0.23148<tspan dx="1.6"> ± </tspan>0.00017</text>
<text transform="translate(489.8 672.2) scale(1.15 1.0)" font-size="22" fill="#000" stroke="#000" stroke-width="0.25" class="sy">χ</text>
<text transform="translate(501 663.6) scale(1.0 1.05)" font-size="14.5" fill="#000" stroke="#000" stroke-width="0.17">2</text>
<text transform="translate(509.6 672.2) scale(1.0 1.05)" font-size="21.3" fill="#000" stroke="#000" stroke-width="0.24">/d.o.f.: 10.2 / 5</text>
<text transform="translate(58.4 689.8) scale(1.0 1.05)" font-size="27" fill="#000" stroke="#000" stroke-width="0.31">10</text>
<text transform="translate(94 675.2) scale(1.0 1.05)" font-size="19" fill="#000" stroke="#000" stroke-width="0.22">3</text>
<text transform="translate(58.4 938.6) scale(1.0 1.05)" font-size="27" fill="#000" stroke="#000" stroke-width="0.31">10</text>
<text transform="translate(94 924) scale(1.0 1.05)" font-size="19" fill="#000" stroke="#000" stroke-width="0.22">2</text>
<text transform="translate(117.7 1025.8) scale(1.0 1.05)" font-size="27" fill="#000" stroke="#000" stroke-width="0.31" text-anchor="middle">0.23</text>
<text transform="translate(331.7 1025.8) scale(1.0 1.05)" font-size="27" fill="#000" stroke="#000" stroke-width="0.31" text-anchor="middle">0.232</text>
<text transform="translate(545.6 1025.8) scale(1.0 1.05)" font-size="27" fill="#000" stroke="#000" stroke-width="0.31" text-anchor="middle">0.234</text>
<g transform="translate(39.5 930.6) rotate(-90)"><text x="0" y="0" font-size="42" stroke="#000" stroke-width="0.48">m</text><text transform="translate(35.5 13.1) scale(1 1.05)" font-size="30" stroke="#000" stroke-width="0.35">H</text><text transform="translate(82.4 0) scale(1.04 1.01)" font-size="42" stroke="#000" stroke-width="0.48">[GeV]</text></g>
<text x="200" y="1080.3" font-size="42" fill="#000" stroke="#000" stroke-width="0.48">sin</text>
<text transform="translate(254 1058.6) scale(1.0 1.05)" font-size="30" fill="#000" stroke="#000" stroke-width="0.34">2</text>
<text transform="translate(271 1080.3) scale(1.2 1.0)" font-size="42" fill="#000" stroke="#000" stroke-width="0.48" class="sy">θ</text>
<text x="294" y="1050.2" font-size="30" fill="#000" stroke="#000" stroke-width="0.34">lept</text>
<text x="294" y="1092.7" font-size="30" fill="#000" stroke="#000" stroke-width="0.34">eff</text>
<rect x="341.04" y="1063.92" width="21.25" height="3.02" fill="#000"/><rect x="341.04" y="1072.45" width="21.25" height="3.02" fill="#000"/>
<text transform="translate(376.8 1080.3) scale(1.0 1.05)" font-size="42" fill="#000" stroke="#000" stroke-width="0.48">(1</text>
<rect x="425.4" y="1068.6" width="23.4" height="2.4" fill="#000"/>
<text x="462.4" y="1080.3" font-size="42" fill="#000" stroke="#000" stroke-width="0.48">g</text>
<text transform="translate(484.6 1092.3) scale(1.0 1.05)" font-size="30" fill="#000" stroke="#000" stroke-width="0.34">Vl</text>
<text transform="translate(510.6 1080.3) scale(1.0 1.05)" font-size="42" fill="#000" stroke="#000" stroke-width="0.48">/g</text>
<text transform="translate(547.6 1092.3) scale(1.0 1.05)" font-size="30" fill="#000" stroke="#000" stroke-width="0.34">Al</text>
<text transform="translate(575.2 1080.3) scale(1.0 1.05)" font-size="42" fill="#000" stroke="#000" stroke-width="0.48">)</text>
<text transform="translate(586.6 1080.3) scale(1.0 1.05)" font-size="42" fill="#000" stroke="#000" stroke-width="0.48">/</text>
<text transform="translate(600 1080.3) scale(1.0 1.05)" font-size="42" fill="#000" stroke="#000" stroke-width="0.48">4</text>
<clipPath id="l1"><rect x="430.3" y="905.8" width="34.5" height="13.8"/></clipPath><g clip-path="url(#l1)"><path d="M417.30 905.8l13.8 13.8M421.30 905.8l13.8 13.8M425.30 905.8l13.8 13.8M429.30 905.8l13.8 13.8M433.30 905.8l13.8 13.8M437.30 905.8l13.8 13.8M441.30 905.8l13.8 13.8M445.30 905.8l13.8 13.8M449.30 905.8l13.8 13.8M453.30 905.8l13.8 13.8M457.30 905.8l13.8 13.8M461.30 905.8l13.8 13.8M465.30 905.8l13.8 13.8M429.30 905.8l-13.8 13.8M433.30 905.8l-13.8 13.8M437.30 905.8l-13.8 13.8M441.30 905.8l-13.8 13.8M445.30 905.8l-13.8 13.8M449.30 905.8l-13.8 13.8M453.30 905.8l-13.8 13.8M457.30 905.8l-13.8 13.8M461.30 905.8l-13.8 13.8M465.30 905.8l-13.8 13.8M469.30 905.8l-13.8 13.8M473.30 905.8l-13.8 13.8M477.30 905.8l-13.8 13.8M481.30 905.8l-13.8 13.8" stroke="#500000" stroke-width="0.8" fill="none"/></g>
<rect x="430.3" y="905.8" width="34.5" height="13.8" fill="none" stroke="#500000" stroke-width="0.6"/>
<path d="M431.40 933.4V946.6M437.44 933.4V946.6M443.48 933.4V946.6M449.52 933.4V946.6M455.56 933.4V946.6M461.60 933.4V946.6M430.3 937.6H464.8M430.3 943.8H464.8" stroke="#005000" stroke-width="0.6" fill="none"/>
<rect x="430.3" y="933.4" width="34.5" height="13.2" fill="none" stroke="#005000" stroke-width="0.6"/>
<clipPath id="l3"><rect x="430.3" y="960.9" width="34.5" height="13.9"/></clipPath><g clip-path="url(#l3)"><path d="M413.00 960.9l13.9 13.9M421.20 960.9l13.9 13.9M429.40 960.9l13.9 13.9M437.60 960.9l13.9 13.9M445.80 960.9l13.9 13.9M454.00 960.9l13.9 13.9M462.20 960.9l13.9 13.9M470.40 960.9l13.9 13.9M429.40 960.9l-13.9 13.9M437.60 960.9l-13.9 13.9M445.80 960.9l-13.9 13.9M454.00 960.9l-13.9 13.9M462.20 960.9l-13.9 13.9M470.40 960.9l-13.9 13.9M478.60 960.9l-13.9 13.9M486.80 960.9l-13.9 13.9" stroke="#000050" stroke-width="0.6" fill="none"/></g>
<rect x="430.3" y="960.9" width="34.5" height="13.9" fill="none" stroke="#000050" stroke-width="0.55"/>
<text x="470.6" y="920.8" font-size="24" fill="#500000" stroke="#500000" stroke-width="0.28" class="sy">Δ</text>
<text transform="translate(485.4 920.8) scale(1.25 1.0)" font-size="24" fill="#500000" stroke="#500000" stroke-width="0.28" class="sy" style="stroke-width:0">α</text>
<text transform="translate(502 910.5) scale(1.0 1.05)" font-size="16.5" fill="#500000" stroke="#500000" stroke-width="0.19">(5)</text>
<text x="502" y="929.3" font-size="16.5" fill="#500000" stroke="#500000" stroke-width="0.19">had</text>
<rect x="531.14" y="911.44" width="12.14" height="1.73" fill="#500000"/><rect x="531.14" y="916.31" width="12.14" height="1.73" fill="#500000"/>
<text transform="translate(551 920.8) scale(1.0 1.05)" font-size="24" fill="#500000" stroke="#500000" stroke-width="0.28">0.02761 ± 0.00036</text>
<text x="471.5" y="947.8" font-size="24" fill="#005000" stroke="#005000" stroke-width="0.28">m</text>
<text transform="translate(491.2 955.9) scale(1.0 1.05)" font-size="16.5" fill="#005000" stroke="#005000" stroke-width="0.19">Z</text>
<rect x="502.94" y="938.44" width="12.14" height="1.73" fill="#005000"/><rect x="502.94" y="943.31" width="12.14" height="1.73" fill="#005000"/>
<text transform="translate(522.7 947.8) scale(1.0 1.05)" font-size="24" fill="#005000" stroke="#005000" stroke-width="0.28">91.1875 ± 0.0021 GeV</text>
<text x="471.5" y="976" font-size="24" fill="#000050" stroke="#000050" stroke-width="0.28">m</text>
<text x="491.4" y="983.6" font-size="16.5" fill="#000050" stroke="#000050" stroke-width="0.19">t</text>
<rect x="496.94" y="966.64" width="12.14" height="1.73" fill="#000050"/><rect x="496.94" y="971.51" width="12.14" height="1.73" fill="#000050"/>
<text transform="translate(516.7 976) scale(1.0 1.05)" font-size="24" fill="#000050" stroke="#000050" stroke-width="0.28">174.3 ± 5.1 GeV</text>
</svg></body></html>
